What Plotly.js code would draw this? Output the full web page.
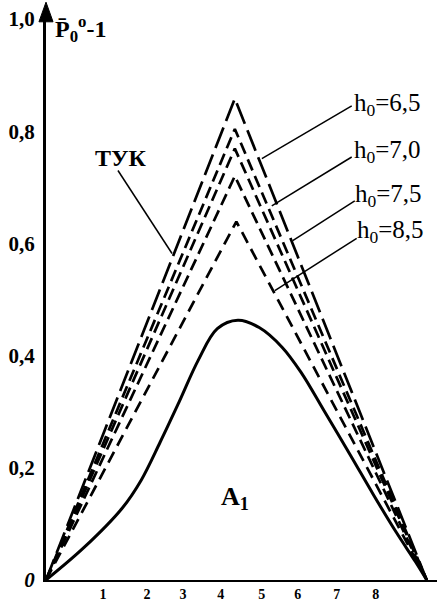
<!DOCTYPE html>
<html>
<head>
<meta charset="utf-8">
<script src="https://cdn.plot.ly/plotly-3.0.1.min.js"></script>
<style>html,body{margin:0;padding:0;background:#fff;}#chart{width:437px;height:602px;}</style>
</head>
<body>
<div id="chart"></div>
<script>
// Tick labels and positions
const xTickVals = [1.5, 2.65, 3.6, 4.59, 5.67, 6.61, 7.64, 8.66];
const xTickText = ['1', '2', '3', '4', '5', '6', '7', '8'];
const yTickVals = [0, 0.2, 0.4, 0.6, 0.8, 1.0];
const yTickText = ['<i>0</i>', '0,2', '0,4', '0,6', '0,8', '1,0'];

// Dashed triangular curves: start, peak, end
const triX = [0, 4.96, 10];
const triTYK = [0, 0.858, 0];
const tri65 = [0, 0.804, 0];
const tri70 = [0, 0.769, 0];
const tri75 = [0, 0.720, 0];
const triX85 = [0, 5.0, 10];
const tri85 = [0, 0.639, 0];

// Solid curve A1
const solidX = [0, 1.0, 2.0, 2.5, 3.0, 3.5, 4.0, 4.5, 5.04, 5.6, 6.2, 6.7, 7.3, 8.0, 8.6, 9.2, 9.7, 10];
const solidY = [0, 0.058, 0.128, 0.178, 0.246, 0.318, 0.392, 0.448, 0.463, 0.450, 0.415, 0.370, 0.302, 0.222, 0.152, 0.085, 0.033, 0];

const serif = 'Liberation Serif, Times New Roman, serif';

function dashed(x, y, dash, w) {
  return {x: x, y: y, type: 'scatter', mode: 'lines', hoverinfo: 'skip',
    line: {color: '#000', width: w, dash: dash}, showlegend: false, cliponaxis: false};
}

const traces = [
  dashed(triX, triTYK, '22px,7px', 2.7),
  dashed(triX, tri65, '12px,6px', 2.7),
  dashed(triX, tri70, '12px,6px', 2.7),
  dashed(triX, tri75, '12px,6px', 2.7),
  dashed(triX85, tri85, '12px,7px', 2.7),
  {x: solidX, y: solidY, type: 'scatter', mode: 'lines', hoverinfo: 'skip',
    line: {color: '#000', width: 3, shape: 'spline', smoothing: 1}, showlegend: false, cliponaxis: false}
];

function leader(x0, y0, x1, y1) {
  return {type: 'line', xref: 'x', yref: 'y', x0: x0, y0: y0, x1: x1, y1: y1,
    line: {color: '#000', width: 1.5}};
}

const layout = {
  width: 437, height: 602,
  margin: {l: 46, r: 0, t: 19, b: 22},
  paper_bgcolor: '#fff', plot_bgcolor: '#fff',
  showlegend: false,
  xaxis: {range: [0, 10.27], showgrid: false, zeroline: false,
    showline: true, linecolor: '#000', linewidth: 2,
    tickmode: 'array', tickvals: xTickVals, ticktext: xTickText, ticks: '',
    tickfont: {family: serif, size: 14, color: '#000', weight: 'bold'}},
  yaxis: {range: [0, 1.0], showgrid: false, zeroline: false,
    showline: true, linecolor: '#000', linewidth: 3,
    tickmode: 'array', tickvals: yTickVals, ticktext: yTickText, ticks: '',
    ticklabelstandoff: 4,
    tickfont: {family: serif, size: 21, color: '#000', weight: 'bold'}},
  shapes: [
    {type: 'path', xref: 'paper', yref: 'paper',
      path: 'M -0.018 0.995 L 0.018 0.995 L 0 1.03 Z', fillcolor: '#000', line: {color: '#000', width: 1}},
    leader(8.03, 0.845, 5.67, 0.751),
    leader(8.03, 0.754, 5.93, 0.667),
    leader(8.11, 0.676, 6.48, 0.605),
    leader(8.16, 0.609, 6.01, 0.516),
    leader(1.89, 0.730, 3.31, 0.582)
  ],
  annotations: [
    {x: 0.18, y: 0.982, xref: 'x', yref: 'y', xanchor: 'left', yanchor: 'middle', showarrow: false,
      text: 'P\u0304<sub>0</sub><sup>o</sup>-1', font: {family: serif, size: 24, color: '#000', weight: 'bold'}},
    {x: 1.97, y: 0.753, xref: 'x', yref: 'y', xanchor: 'center', yanchor: 'middle', showarrow: false,
      text: 'ТУК', font: {family: serif, size: 24, color: '#000', weight: 'bold'}},
    {x: 8.03, y: 0.847, xref: 'x', yref: 'y', xanchor: 'left', yanchor: 'middle', showarrow: false,
      text: 'h<sub>0</sub>=6,5', font: {family: serif, size: 25, color: '#000'}},
    {x: 8.03, y: 0.763, xref: 'x', yref: 'y', xanchor: 'left', yanchor: 'middle', showarrow: false,
      text: 'h<sub>0</sub>=7,0', font: {family: serif, size: 25, color: '#000'}},
    {x: 8.06, y: 0.685, xref: 'x', yref: 'y', xanchor: 'left', yanchor: 'middle', showarrow: false,
      text: 'h<sub>0</sub>=7,5', font: {family: serif, size: 25, color: '#000'}},
    {x: 8.11, y: 0.621, xref: 'x', yref: 'y', xanchor: 'left', yanchor: 'middle', showarrow: false,
      text: 'h<sub>0</sub>=8,5', font: {family: serif, size: 25, color: '#000'}},
    {x: 4.96, y: 0.146, xref: 'x', yref: 'y', xanchor: 'center', yanchor: 'middle', showarrow: false,
      text: 'A<sub>1</sub>', font: {family: serif, size: 26, color: '#000', weight: 'bold'}}
  ]
};

Plotly.newPlot('chart', traces, layout, {staticPlot: true, displayModeBar: false});
</script>
</body>
</html>
